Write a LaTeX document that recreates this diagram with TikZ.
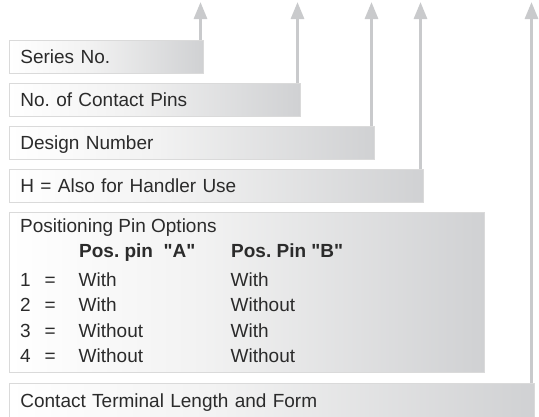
\documentclass[tikz,border=0pt]{standalone}
\usepackage{fontspec}
\setmainfont{Liberation Sans}
\usetikzlibrary{arrows.meta}
\definecolor{pinGray}{HTML}{C9CACC}
\definecolor{edgeGray}{HTML}{DADADA}
\definecolor{fadeGray}{HTML}{D0D1D3}
\definecolor{inkGray}{HTML}{2B2B2B}
\newcommand{\pinfont}{\fontsize{19}{23}\selectfont\frenchspacing}
\pgfdeclarehorizontalshading{boxFade}{100bp}{color(0bp)=(white); color(25bp)=(white); color(45bp)=(white!95!black); color(75bp)=(fadeGray); color(100bp)=(fadeGray)}

\tikzset{
  codebox/.style = {draw = edgeGray, line width = 0.8pt, shading = boxFade, anchor = north west,
    minimum height = 33pt, inner xsep = 11pt, inner ysep = 0pt, text height = 14pt, text depth = 0pt, align = left},
  celltext/.style = {anchor = base west, inner sep = 0pt},
  pinarrow/.style = {draw = pinGray, line width = 3pt, -{Triangle[length = 17pt, width = 13pt]}}
}

\begin{document}
\begin{tikzpicture}[x = 1pt, y = -1pt, font = \pinfont, text = inkGray]
  \useasboundingbox (0, 0) rectangle (539, 416);

  % -------------------
  % code field boxes
  % -------------------

  \node[codebox, text width = 172pt] (series) at (9, 40) {Series No.};
  \node[codebox, text width = 269pt] (pins) at (9, 83) {No. of Contact Pins};
  \node[codebox, text width = 343pt] (design) at (9, 126) {Design Number};
  \node[codebox, text width = 392pt] (handler) at (9, 169) {H = Also for Handler Use};
  \node[codebox, text width = 453pt, minimum height = 160pt] (posopts) at (9, 212) {};
  \node[codebox, text width = 503pt, minimum height = 34pt] (terminal) at (9, 383) {Contact Terminal Length and Form};

  % positioning pin table
  \node[celltext] (posTitle) at (20, 232) {Positioning Pin Options};
  \node[celltext, font = \pinfont\bfseries] (headA) at (79, 257) {Pos. pin\ \ \textquotedbl A\textquotedbl};
  \node[celltext, font = \pinfont\bfseries] (headB) at (231, 257) {Pos. Pin \textquotedbl B\textquotedbl};

  \foreach \num/\optA/\optB [count = \row from 0] in {1/With/With, 2/With/Without, 3/Without/With, 4/Without/Without} {
    \node[celltext] (num\num) at (20, {286.5 + 25.3*\row}) {\num};
    \node[celltext] (eq\num) at (44.5, {286.5 + 25.3*\row}) {=};
    \node[celltext] (optA\num) at (78.5, {286.5 + 25.3*\row}) {\optA};
    \node[celltext] (optB\num) at (230.5, {286.5 + 25.3*\row}) {\optB};
  }

  % -------------------
  % arrows up to the part number
  % -------------------

  \coordinate (seriesTip) at (200.5, 2);
  \coordinate (pinsTip) at (297.5, 2);
  \coordinate (designTip) at (371.5, 2);
  \coordinate (handlerTip) at (420.5, 2);
  \coordinate (terminalTip) at (531.5, 2);

  \draw[pinarrow] (series.north east -| seriesTip) to (seriesTip);
  \draw[pinarrow] (pins.north east -| pinsTip) to (pinsTip);
  \draw[pinarrow] (design.north east -| designTip) to (designTip);
  \draw[pinarrow] (handler.north east -| handlerTip) to (handlerTip);
  \draw[pinarrow] (terminal.north east -| terminalTip) to (terminalTip);
\end{tikzpicture}
\end{document}
